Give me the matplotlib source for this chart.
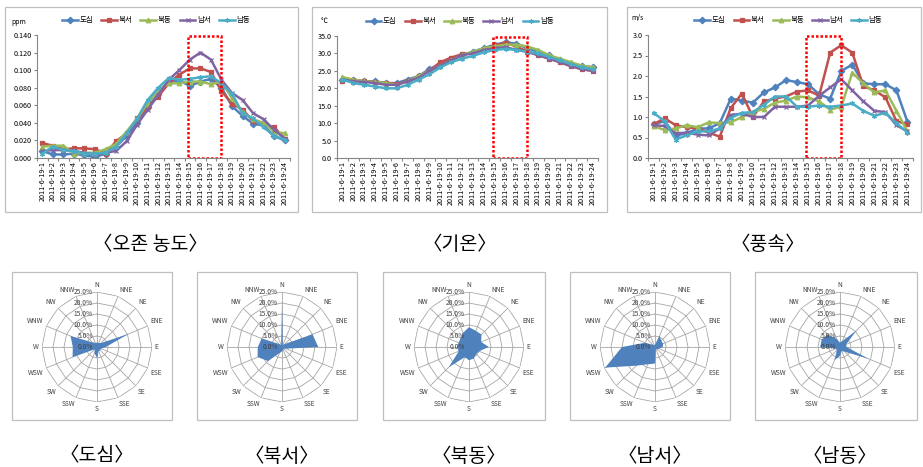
import numpy as np
import matplotlib
matplotlib.use('Agg')
import matplotlib.pyplot as plt
from matplotlib.patches import Rectangle

plt.rcParams['font.family'] = ['Noto Sans CJK KR', 'DejaVu Sans']
plt.rcParams['axes.unicode_minus'] = False

W, H = 923, 467

# ---- data ----
hours = list(range(1, 25))
hour_labels = ['2011-6-19-%d' % h for h in hours]
sites = ['도심', '북서', '북동', '남서', '남동']
colors = ['#4F81BD', '#C0504D', '#9BBB59', '#8064A2', '#4BACC6']
markers = ['D', 's', '^', 'x', (6, 2, 0)]

ozone_dosim = [0.008, 0.004, 0.004, 0.005, 0.003, 0.001, 0.005, 0.013, 0.025, 0.040, 0.058, 0.073,
               0.088, 0.088, 0.082, 0.087, 0.090, 0.080, 0.059, 0.048, 0.039, 0.037, 0.025, 0.020]
ozone_bukseo = [0.017, 0.014, 0.010, 0.011, 0.011, 0.010, 0.005, 0.019, 0.028, 0.045, 0.058, 0.070,
                0.085, 0.095, 0.102, 0.102, 0.098, 0.076, 0.062, 0.055, 0.042, 0.038, 0.035, 0.022]
ozone_bukdong = [0.013, 0.014, 0.014, 0.005, 0.006, 0.006, 0.010, 0.016, 0.030, 0.045, 0.062, 0.077,
                 0.085, 0.085, 0.087, 0.087, 0.084, 0.087, 0.068, 0.052, 0.044, 0.040, 0.030, 0.028]
ozone_namseo = [0.008, 0.009, 0.009, 0.008, 0.006, 0.004, 0.006, 0.008, 0.019, 0.038, 0.055, 0.072,
                0.089, 0.100, 0.112, 0.120, 0.112, 0.089, 0.074, 0.066, 0.051, 0.044, 0.032, 0.022]
ozone_namdong = [0.005, 0.013, 0.009, 0.008, 0.005, 0.005, 0.006, 0.013, 0.028, 0.045, 0.066, 0.080,
                 0.091, 0.089, 0.090, 0.092, 0.093, 0.085, 0.073, 0.051, 0.045, 0.035, 0.025, 0.021]

temp_dosim = [22.5, 22.3, 22.0, 22.0, 21.5, 21.5, 22.5, 23.5, 25.5, 27.0, 28.5, 29.5,
              30.5, 31.5, 32.5, 33.2, 32.8, 31.5, 30.5, 29.5, 28.0, 27.0, 26.5, 26.0]
temp_bukseo = [22.0, 22.5, 22.0, 21.8, 21.5, 21.3, 22.0, 23.5, 25.0, 27.5, 28.8, 29.8,
               30.2, 31.0, 32.3, 33.0, 32.0, 30.5, 29.5, 28.5, 27.5, 26.3, 25.5, 25.0]
temp_bukdong = [23.2, 22.5, 22.0, 21.8, 21.5, 21.0, 22.0, 23.5, 25.0, 26.5, 28.0, 29.5,
                30.5, 31.5, 32.0, 32.5, 32.5, 32.0, 31.0, 29.5, 28.5, 27.5, 26.5, 26.0]
temp_namseo = [22.5, 22.0, 21.8, 21.5, 21.0, 21.0, 22.0, 23.0, 25.0, 26.5, 28.0, 29.5,
               30.0, 31.0, 31.5, 31.8, 31.0, 30.5, 29.5, 28.5, 27.5, 26.5, 25.5, 25.0]
temp_namdong = [22.5, 21.5, 21.0, 20.5, 20.0, 20.0, 21.0, 22.5, 24.0, 26.0, 27.5, 28.5,
                29.3, 30.3, 31.0, 31.3, 31.0, 30.5, 30.0, 29.0, 28.0, 27.0, 26.0, 25.5]

ws_dosim = [0.82, 0.90, 0.55, 0.60, 0.72, 0.72, 0.85, 1.45, 1.40, 1.35, 1.60, 1.72,
            1.90, 1.85, 1.80, 1.55, 1.45, 2.12, 2.28, 1.82, 1.80, 1.80, 1.65, 0.88]
ws_bukseo = [0.82, 0.97, 0.80, 0.75, 0.72, 0.62, 0.52, 1.22, 1.57, 1.00, 1.38, 1.45,
             1.50, 1.62, 1.65, 1.52, 2.57, 2.75, 2.57, 1.75, 1.65, 1.48, 0.90, 0.82]
ws_bukdong = [0.78, 0.68, 0.72, 0.80, 0.75, 0.87, 0.85, 0.87, 1.00, 1.12, 1.20, 1.35,
              1.40, 1.50, 1.48, 1.38, 1.18, 1.25, 2.08, 1.82, 1.60, 1.65, 1.15, 0.65]
ws_namseo = [0.80, 0.78, 0.60, 0.62, 0.57, 0.55, 0.72, 1.05, 1.08, 1.00, 1.00, 1.25,
             1.25, 1.25, 1.28, 1.52, 1.72, 1.92, 1.65, 1.38, 1.15, 1.12, 0.80, 0.65]
ws_namdong = [1.10, 0.90, 0.45, 0.55, 0.65, 0.65, 0.72, 0.98, 1.10, 1.12, 1.30, 1.50,
              1.50, 1.25, 1.25, 1.28, 1.25, 1.28, 1.33, 1.15, 1.03, 1.10, 0.85, 0.62]

directions = ['N', 'NNE', 'NE', 'ENE', 'E', 'ESE', 'SE', 'SSE',
              'S', 'SSW', 'SW', 'WSW', 'W', 'WNW', 'NW', 'NNW']
rose_dosim = [2, 2, 2.5, 15.5, 4, 2, 2, 2, 5, 3, 1.5, 12, 11, 13, 3, 2]
rose_bukseo = [20, 1, 2, 15, 16.5, 2, 1, 1.5, 2, 3, 9, 12, 11, 10, 2, 1]
rose_bukdong = [9, 8, 8, 6, 9, 5, 4.6, 5.7, 6, 5, 13, 5, 5.4, 5, 5.5, 7]
rose_namseo = [1, 5.5, 4, 4, 3.5, 2, 1.5, 1, 7.5, 8.5, 12, 24.5, 15, 5, 1.5, 1]
rose_namdong = [2, 3, 10.5, 3, 3, 14, 3, 2, 4, 6.5, 2, 2, 9, 9, 8, 4]
rose_ticks = [0, 5, 10, 15, 20, 25]

highlight_start, highlight_end = 14.85, 18.0


def fbox(x0, y0, x1, y1):
    # pixel box (top-left origin) -> figure fraction
    return [x0 / W, 1 - y1 / H, (x1 - x0) / W, (y1 - y0) / H]


fig = plt.figure(figsize=(W / 100, H / 100), dpi=100)

border = '#BFBFBF'


def frame(x0, y0, x1, y1):
    b = fbox(x0, y0, x1, y1)
    fig.add_artist(Rectangle((b[0], b[1]), b[2], b[3], transform=fig.transFigure,
                             fill=False, edgecolor=border, lw=0.9))


def line_chart(ax, series, ymax, ystep, fmt, unit, unit_xy, leg_x):
    for vals, name, c, m in zip(series, sites, colors, markers):
        ax.plot(hours, vals, color=c, marker=m, markersize=3.3, lw=1.8,
                markeredgewidth=0.9, label=name)
    ax.set_xlim(0.5, 24.5)
    ax.set_ylim(0, ymax)
    ax.set_yticks(np.arange(0, ymax + ystep / 2, ystep))
    ax.yaxis.set_major_formatter(plt.FormatStrFormatter(fmt))
    ax.set_xticks(np.arange(0.5, 25, 1))
    ax.set_xticklabels([])
    ax.set_xticks(hours, minor=True)
    ax.set_xticklabels(hour_labels, minor=True, rotation=90)
    ax.tick_params(axis='x', which='minor', length=0, labelsize=5.2, pad=2)
    ax.tick_params(axis='x', which='major', length=2.5, color='#868686')
    ax.tick_params(axis='y', labelsize=5.2, length=2.5, color='#868686', pad=1.5)
    for s in ['top', 'right']:
        ax.spines[s].set_visible(False)
    for s in ['left', 'bottom']:
        ax.spines[s].set_color('#868686')
        ax.spines[s].set_linewidth(0.8)
    ax.add_patch(Rectangle((highlight_start, 0), highlight_end - highlight_start, 0.99 * ymax,
                           fill=False, edgecolor='#FF0000', lw=1.8,
                           linestyle=(0, (1, 0.8)), zorder=5))
    ax.legend(loc='center', bbox_to_anchor=(leg_x, 1.12), ncol=5, frameon=False,
              fontsize=5.4, handlelength=2.1, handletextpad=0.2, columnspacing=1.1,
              borderpad=0)
    fig.text(unit_xy[0] / W, 1 - unit_xy[1] / H, unit, fontsize=5, ha='left', va='center')


# top row
frame(5, 7, 298, 212)
frame(312, 7, 607, 212)
frame(627, 7, 921, 212)

ax1 = fig.add_axes(fbox(37, 35, 290, 158))
line_chart(ax1, [ozone_dosim, ozone_bukseo, ozone_bukdong, ozone_namseo, ozone_namdong],
           0.14, 0.02, '%.3f', 'ppm', (11, 22), 0.47)
ax2 = fig.add_axes(fbox(337, 36, 598, 158))
line_chart(ax2, [temp_dosim, temp_bukseo, temp_bukdong, temp_namseo, temp_namdong],
           35, 5, '%.1f', '℃', (321, 21), 0.47)
ax3 = fig.add_axes(fbox(648, 35, 913, 158))
line_chart(ax3, [ws_dosim, ws_bukseo, ws_bukdong, ws_namseo, ws_namdong],
           3.0, 0.5, '%.1f', 'm/s', (631, 18), 0.53)

cap_y = 1 - 245 / H
cap_size = 14
fig.text(150 / W, cap_y, '〈오존 농도〉', fontsize=cap_size, ha='center', va='center')
fig.text(460 / W, cap_y, '〈기온〉', fontsize=cap_size, ha='center', va='center')
fig.text(768 / W, cap_y, '〈풍속〉', fontsize=cap_size, ha='center', va='center')

# bottom row: wind roses
theta = np.deg2rad(np.arange(16) * 22.5)
theta_c = np.append(theta, theta[0])
rose_sets = [rose_dosim, rose_bukseo, rose_bukdong, rose_namseo, rose_namdong]
centers = [97, 282, 469, 655, 840]
boxes = [(12, 172), (197, 357), (383, 545), (570, 730), (755, 917)]
R = 55
cy = 347

for vals, cx, (bx0, bx1), name in zip(rose_sets, centers, boxes, sites):
    frame(bx0, 272, bx1, 420)
    ax = fig.add_axes(fbox(cx - R, cy - R, cx + R, cy + R), projection='polar')
    ax.set_theta_zero_location('N')
    ax.set_theta_direction(-1)
    ax.set_ylim(0, 25)
    ax.grid(False)
    ax.set_xticks([])
    ax.set_yticks([])
    ax.spines['polar'].set_visible(False)
    ax.patch.set_alpha(0)
    for r in rose_ticks[1:]:
        ax.plot(theta_c, [r] * 17, color='#A6A6A6', lw=0.6, zorder=1)
    for t in theta:
        ax.plot([t, t], [0, 25], color='#A6A6A6', lw=0.6, zorder=1)
    v = np.append(vals, vals[0])
    ax.fill(theta_c, v, color='#4F81BD', lw=0, zorder=2)
    for t, d in zip(theta, directions):
        s, c = np.sin(t), np.cos(t)
        ha = 'left' if s > 0.1 else ('right' if s < -0.1 else 'center')
        va = 'bottom' if c > 0.1 else ('top' if c < -0.1 else 'center')
        ax.text(t, 26.3, d, fontsize=4.8, ha=ha, va=va, color='#404040', clip_on=False)
    for r in rose_ticks:
        ax.annotate('%.1f%%' % r, xy=(0, r), xytext=(-3, 0), textcoords='offset points',
                    ha='right', va='center', fontsize=4.8, color='#404040', zorder=3)
    fig.text(cx / W, 1 - 456 / H, '〈%s〉' % name, fontsize=cap_size, ha='center', va='center')

fig.savefig('out.png', dpi=100)
